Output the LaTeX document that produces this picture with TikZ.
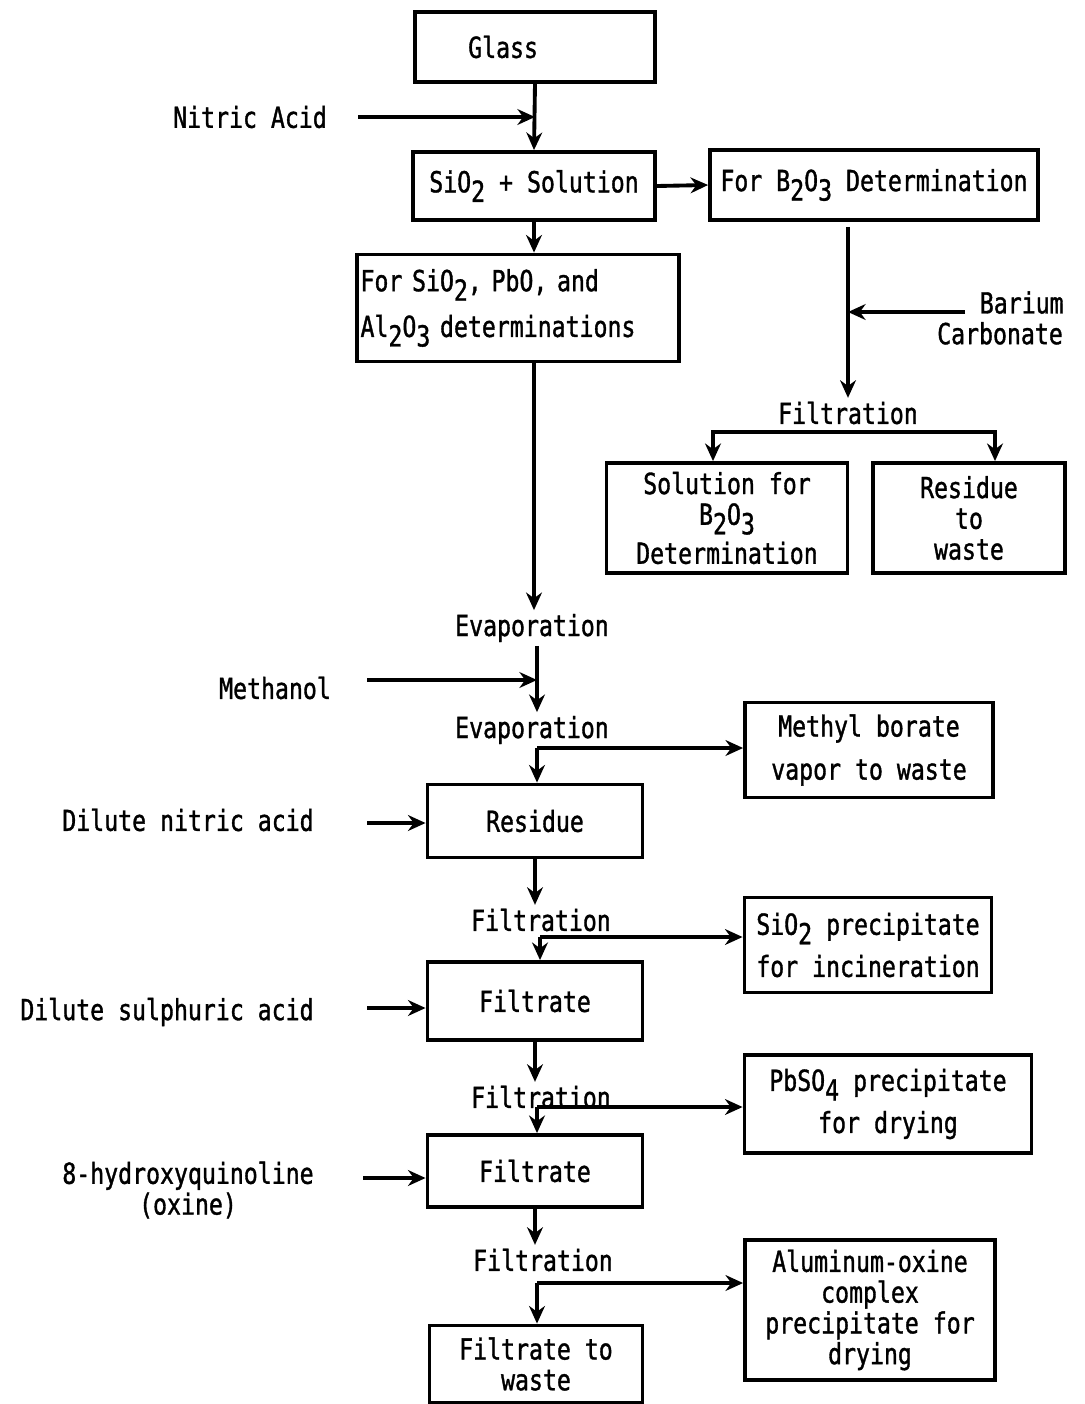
\documentclass[tikz,border=0pt]{standalone}
\usepackage{fontspec}
\setmainfont[FakeStretch=0.8,FakeBold=1.2]{DejaVu Sans Mono}
\usetikzlibrary{arrows.meta}
\newcommand{\lowsub}[1]{\raisebox{-0.6ex}{#1}}

\begin{document}
\begin{tikzpicture}[
    x=0.02cm, y=-0.02cm,
    every node/.style={font=\fontsize{16.5}{17.5}\selectfont, inner sep=2pt},
    box/.style={draw, line width=2.2pt, align=center},
    arr/.style={line width=2.2pt, -{Stealth[length=10pt,width=9pt]}},
    plain/.style={line width=2.2pt}
]
\useasboundingbox (0,0) rectangle (1085,1404);

% main column boxes
\node[box, minimum width=4.8cm, minimum height=1.4cm] (glass) at (535,47) {Glass\hspace{2.2em}};
\node[box, minimum width=4.84cm, minimum height=1.36cm] (sol) at (534,186) {SiO\lowsub{2} + Solution};
\node[box, minimum width=6.34cm, minimum height=2.14cm, align=left, text width=6.3cm] (sidet) at (518,308) {For SiO\lowsub{2}, PbO, and\\[7pt]Al\lowsub{2}O\lowsub{3} determinations};
\node[box, minimum width=4.3cm, minimum height=1.46cm] (resid) at (535,821) {Residue};
\node[box, minimum width=4.3cm, minimum height=1.56cm] (filt1) at (535,1001) {Filtrate};
\node[box, minimum width=4.3cm, minimum height=1.44cm] (filt2) at (535,1171) {Filtrate};
\node[box, minimum width=4.26cm, minimum height=1.54cm] (fwaste) at (536,1364) {Filtrate to\\waste};

% right side boxes
\node[box, minimum width=6.56cm, minimum height=1.4cm] (bdet) at (874,185) {For B\lowsub{2}O\lowsub{3} Determination};
\node[box, minimum width=4.82cm, minimum height=2.2cm] (bsol) at (727,518) {Solution for\\B\lowsub{2}O\lowsub{3}\\[3pt]Determination};
\node[box, minimum width=3.84cm, minimum height=2.2cm] (resw) at (969,518) {Residue\\to\\waste};
\node[box, minimum width=4.96cm, minimum height=1.9cm] (meth) at (869,750) {Methyl borate\\[7pt]vapor to waste};
\node[box, minimum width=4.94cm, minimum height=1.9cm] (sipr) at (868,945) {SiO\lowsub{2} precipitate\\[5pt]for incineration};
\node[box, minimum width=5.74cm, minimum height=1.96cm] (pbpr) at (888,1104) {PbSO\lowsub{4} precipitate\\[5pt]for drying};
\node[box, minimum width=5.0cm, minimum height=2.8cm] (alpr) at (870,1310) {Aluminum-oxine\\complex\\precipitate for\\drying};

% step labels
\node (evap1) at (532,628) {Evaporation};
\node (evap2) at (532,730) {Evaporation};
\node (filtA) at (848,413) {Filtration};
\node (filtr1) at (541,920) {Filtration};
\node (filtr2) at (541,1097) {Filtration};
\node (filtr3) at (543,1260) {Filtration};

% reagents
\node (nitric) at (250,117) {Nitric Acid};
\node[align=center] (barium) at (1000,318) {\hspace{1.5em}Barium\\Carbonate};
\node (methanol) at (275,688) {Methanol};
\node (dnitric) at (188,820) {Dilute nitric acid};
\node (dsulph) at (167,1012) {Dilute sulphuric acid};
\node[align=center] (oxine) at (188,1190) {8-hydroxyquinoline\\(oxine)};

% branch points
\coordinate (nitricin) at (358,117);
\coordinate (bariumin) at (965,312);
\coordinate (methin) at (367,680);
\coordinate (dnitricin) at (367,823);
\coordinate (dsulphin) at (367,1008);
\coordinate (oxinein) at (363,1178);
\coordinate (forkA) at (848,432);
\coordinate (fork2) at (537,748);
\coordinate (fork3) at (540,937);
\coordinate (fork4) at (537,1107);
\coordinate (fork5) at (537,1283);

% connectors
\draw[arr] (glass.south) -- (sol.north);
\draw[arr] (nitricin) -- (nitricin -| glass.south);
\draw[arr] (sol.east) -- (bdet.west);
\draw[arr] (sol.south) -- (sol.south |- sidet.north);
\draw[arr] (sol.south |- sidet.south) -- (evap1.north -| sol.south);
\draw[arr] (bdet.south -| filtA.north) ++(0,5) -- (filtA.north);
\draw[arr] (bariumin) -- (bariumin -| filtA.north);
\draw[arr] (forkA) -| (bsol.north -| 713,0);
\draw[arr] (forkA) -| (resw.north -| 995,0);
\draw[arr] (evap1.south -| fork2) -- (evap2.north -| fork2);
\draw[arr] (methin) -- (methin -| fork2);
\draw[arr] (fork2) -- (fork2 -| meth.west);
\draw[arr] (fork2) -- (fork2 |- resid.north);
\draw[arr] (dnitricin) -- (dnitricin -| resid.west);
\draw[arr] (resid.south) -- (filtr1.north -| resid.south);
\draw[arr] (fork3) -- (fork3 -| sipr.west);
\draw[arr] (fork3) -- (fork3 |- filt1.north);
\draw[arr] (dsulphin) -- (dsulphin -| filt1.west);
\draw[arr] (filt1.south) -- (filtr2.north -| filt1.south);
\draw[arr] (fork4) -- (fork4 -| pbpr.west);
\draw[arr] (fork4) -- (fork4 |- filt2.north);
\draw[arr] (oxinein) -- (oxinein -| filt2.west);
\draw[arr] (filt2.south) -- (filtr3.north -| filt2.south);
\draw[arr] (fork5) -- (fork5 -| alpr.west);
\draw[arr] (fork5) -- (fork5 |- fwaste.north);

\end{tikzpicture}
\end{document}
